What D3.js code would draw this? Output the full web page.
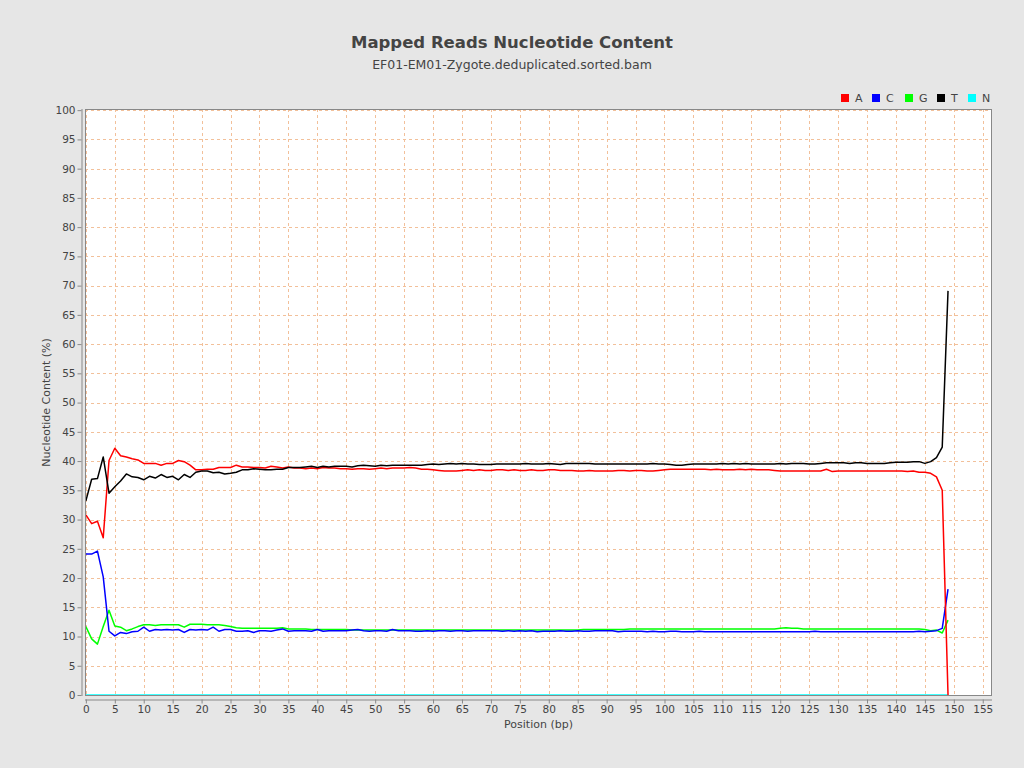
<!DOCTYPE html>
<html><head><meta charset="utf-8">
<script src="https://cdn.jsdelivr.net/npm/d3@7"></script>
<style>html,body{margin:0;padding:0;background:#e6e6e6;}svg{display:block;font-family:"DejaVu Sans",sans-serif;}</style>
</head><body>
<script>
const titleText = "Mapped Reads Nucleotide Content";
const subtitleText = "EF01-EM01-Zygote.deduplicated.sorted.bam";
const seriesNames = ["A","C","G","T","N"];
const seriesColors = ["#ff0000","#0000ff","#00ff00","#000000","#00ffff"];
const xTicks = d3.range(0,156,5);
const yTicks = d3.range(0,101,5);

const valuesA = [30.8,29.3,29.7,26.9,40.1,42.2,40.9,40.7,40.4,40.2,
39.6,39.6,39.6,39.3,39.6,39.6,40.1,39.9,39.3,38.5,
38.5,38.6,38.6,38.9,38.9,38.9,39.3,39.0,39.0,38.9,
38.9,38.8,39.1,39.0,38.8,39.0,38.8,38.8,38.7,38.8,
38.7,38.9,38.8,38.8,38.7,38.7,38.6,38.7,38.7,38.6,
38.7,38.8,38.7,38.8,38.8,38.8,38.9,38.8,38.6,38.6,
38.5,38.4,38.3,38.3,38.3,38.4,38.5,38.4,38.5,38.4,
38.4,38.5,38.5,38.4,38.5,38.4,38.4,38.5,38.4,38.4,
38.5,38.5,38.4,38.4,38.4,38.3,38.3,38.4,38.3,38.3,
38.3,38.3,38.4,38.4,38.3,38.4,38.4,38.3,38.3,38.4,
38.5,38.6,38.6,38.6,38.6,38.6,38.6,38.6,38.5,38.6,
38.5,38.5,38.5,38.6,38.5,38.6,38.5,38.5,38.5,38.4,
38.3,38.3,38.3,38.3,38.3,38.3,38.3,38.3,38.6,38.2,
38.3,38.3,38.3,38.3,38.3,38.3,38.3,38.3,38.3,38.3,
38.3,38.3,38.2,38.3,38.1,38.1,37.9,37.3,35.0,0];

const valuesC = [24.1,24.1,24.6,20.2,10.9,10.1,10.7,10.5,10.8,10.9,
11.6,10.9,11.2,11.1,11.2,11.1,11.2,10.7,11.2,11.1,
11.2,11.1,11.6,10.9,11.2,11.2,10.9,10.9,11.0,10.7,
11.0,11.0,10.9,11.1,11.3,10.9,11.0,11.0,11.0,10.9,
11.2,10.9,11.0,11.0,11.0,11.0,11.1,11.2,11.0,10.9,
11.0,11.0,10.9,11.2,11.0,11.0,11.0,10.9,10.9,11.0,
10.9,11.0,11.0,10.9,11.0,11.0,10.9,11.0,11.0,11.0,
11.0,11.0,10.9,11.0,10.9,11.0,10.9,11.0,10.8,10.9,
10.9,10.9,11.0,10.9,10.9,11.0,10.9,10.9,11.0,11.0,
11.0,11.0,10.8,10.9,10.9,10.9,10.9,10.8,10.9,10.8,
10.8,10.9,10.9,10.8,10.8,10.8,10.9,10.8,10.8,10.8,
10.8,10.8,10.8,10.8,10.8,10.8,10.8,10.8,10.8,10.8,
10.8,10.8,10.8,10.8,10.8,10.8,10.9,10.8,10.8,10.8,
10.8,10.8,10.8,10.8,10.8,10.8,10.8,10.8,10.8,10.8,
10.8,10.8,10.8,10.8,10.9,10.8,10.9,11.0,11.4,18.1];

const valuesG = [11.7,9.6,8.7,11.7,14.5,11.8,11.6,11.0,11.3,11.7,
12.0,12.0,11.9,12.0,12.0,12.0,12.0,11.6,12.1,12.1,
12.1,12.0,12.0,12.0,11.9,11.7,11.5,11.4,11.4,11.4,
11.4,11.4,11.4,11.4,11.5,11.3,11.3,11.3,11.3,11.2,
11.2,11.2,11.2,11.2,11.2,11.2,11.1,11.1,11.1,11.1,
11.1,11.1,11.1,11.1,11.1,11.1,11.1,11.1,11.1,11.1,
11.1,11.1,11.1,11.1,11.1,11.1,11.1,11.1,11.1,11.1,
11.1,11.1,11.1,11.1,11.1,11.1,11.1,11.1,11.1,11.1,
11.1,11.1,11.1,11.1,11.1,11.1,11.2,11.2,11.2,11.2,
11.2,11.2,11.2,11.2,11.3,11.3,11.3,11.3,11.3,11.3,
11.3,11.3,11.3,11.3,11.3,11.3,11.3,11.3,11.3,11.3,
11.3,11.3,11.3,11.3,11.3,11.3,11.3,11.3,11.3,11.3,
11.4,11.5,11.4,11.4,11.3,11.3,11.3,11.3,11.3,11.3,
11.3,11.3,11.3,11.3,11.3,11.3,11.3,11.3,11.3,11.3,
11.3,11.3,11.3,11.3,11.3,11.2,11.0,11.1,10.6,12.8];

const valuesT = [33.2,36.9,37.0,40.7,34.5,35.6,36.6,37.8,37.3,37.2,
36.8,37.4,37.1,37.7,37.2,37.4,36.8,37.7,37.2,38.1,
38.3,38.3,38.0,38.1,37.8,37.9,38.1,38.5,38.5,38.7,
38.6,38.5,38.5,38.6,38.6,38.9,38.9,38.9,39.0,39.1,
38.9,39.1,39.0,39.1,39.1,39.1,39.0,39.2,39.3,39.2,
39.1,39.3,39.2,39.3,39.3,39.3,39.3,39.3,39.3,39.4,
39.5,39.4,39.5,39.6,39.5,39.6,39.5,39.5,39.4,39.4,
39.4,39.5,39.5,39.5,39.5,39.5,39.6,39.5,39.5,39.5,
39.6,39.5,39.4,39.6,39.6,39.6,39.6,39.6,39.5,39.5,
39.5,39.5,39.5,39.5,39.5,39.5,39.5,39.5,39.6,39.5,
39.5,39.4,39.3,39.3,39.4,39.5,39.5,39.5,39.5,39.5,
39.6,39.5,39.6,39.5,39.6,39.5,39.5,39.5,39.5,39.5,
39.6,39.5,39.6,39.6,39.6,39.5,39.5,39.6,39.7,39.7,
39.7,39.7,39.6,39.7,39.7,39.6,39.6,39.6,39.6,39.7,
39.8,39.8,39.8,39.9,39.9,39.6,39.9,40.6,42.4,69.1];

const valuesN = d3.range(150).map(() => 0);
const allSeries = [valuesA, valuesC, valuesG, valuesT, valuesN];

const W = 1024, H = 768;
const plot = {left: 85, right: 992, top: 109, bottom: 696};

const svg = d3.select("body").append("svg").attr("width", W).attr("height", H);
svg.append("rect").attr("width", W).attr("height", H).attr("fill", "#e6e6e6");

const x = d3.scaleLinear().domain([-0.15, 156.6]).range([plot.left, plot.right]);
const y = d3.scaleLinear().domain([0, 100.2]).range([plot.bottom - 1, plot.top]);

svg.append("text").attr("x", 512).attr("y", 48).attr("text-anchor", "middle")
  .attr("font-size", 16.5).attr("font-weight", "bold").attr("fill", "#444").text(titleText);
svg.append("text").attr("x", 512).attr("y", 69).attr("text-anchor", "middle")
  .attr("font-size", 12.5).attr("fill", "#444").text(subtitleText);

svg.append("rect").attr("x", plot.left).attr("y", plot.top)
  .attr("width", plot.right - plot.left).attr("height", plot.bottom - plot.top).attr("fill", "#fff");

const grid = svg.append("g").attr("stroke", "#f2c09a").attr("stroke-width", 1).attr("stroke-dasharray", "3,3");
grid.selectAll(".gx").data(xTicks).join("line")
  .attr("x1", d => Math.round(x(d)) + 0.5).attr("x2", d => Math.round(x(d)) + 0.5)
  .attr("y1", plot.top).attr("y2", plot.bottom);
grid.selectAll(".gy").data(yTicks).join("line")
  .attr("y1", d => Math.round(y(d)) + 0.5).attr("y2", d => Math.round(y(d)) + 0.5)
  .attr("x1", plot.left).attr("x2", plot.right);

svg.append("clipPath").attr("id", "clip").append("rect")
  .attr("x", plot.left).attr("y", plot.top).attr("width", plot.right - plot.left).attr("height", plot.bottom - plot.top);

const line = d3.line().x((d, i) => x(i)).y(d => y(d));
const lines = svg.append("g").attr("clip-path", "url(#clip)");
[4, 2, 1, 0, 3].forEach(k => {
  lines.append("path").datum(allSeries[k]).attr("d", line)
    .attr("fill", "none").attr("stroke", seriesColors[k]).attr("stroke-width", 1.5)
    .attr("stroke-linejoin", "round");
});

svg.append("rect").attr("x", plot.left + 0.5).attr("y", plot.top + 0.5)
  .attr("width", plot.right - plot.left - 1).attr("height", plot.bottom - plot.top - 1)
  .attr("fill", "none").attr("stroke", "#888");

const yAxis = svg.append("g").attr("transform", `translate(${plot.left - 3.5},0)`)
  .call(d3.axisLeft(y).tickValues(yTicks).tickSize(4).tickPadding(2).tickSizeOuter(0));
yAxis.selectAll("text").attr("font-size", 10.5).attr("fill", "#444").attr("font-family", "DejaVu Sans");
yAxis.selectAll("line,path").attr("stroke", "#888");
yAxis.select(".domain").attr("d", `M0.5,${plot.top}V${plot.bottom}`);

const xAxis = svg.append("g").attr("transform", `translate(0,${plot.bottom + 3.5})`)
  .call(d3.axisBottom(x).tickValues(xTicks).tickSize(4).tickPadding(2).tickSizeOuter(0));
xAxis.selectAll("text").attr("font-size", 10.5).attr("fill", "#444").attr("font-family", "DejaVu Sans");
xAxis.selectAll("line,path").attr("stroke", "#888");
xAxis.select(".domain").attr("d", `M${plot.left},0.5H${plot.right}`);

svg.append("text").attr("x", (plot.left + plot.right) / 2).attr("y", 728).attr("text-anchor", "middle")
  .attr("font-size", 11).attr("fill", "#444").text("Position (bp)");
svg.append("text").attr("transform", `translate(50,${(plot.top + plot.bottom) / 2}) rotate(-90)`)
  .attr("text-anchor", "middle").attr("font-size", 11).attr("fill", "#444").text("Nucleotide Content (%)");

const legendX = [841, 872, 905, 937, 968];
const lg = svg.append("g");
seriesNames.forEach((n, i) => {
  lg.append("rect").attr("x", legendX[i]).attr("y", 94).attr("width", 8).attr("height", 8).attr("fill", seriesColors[i]);
  lg.append("text").attr("x", legendX[i] + 14).attr("y", 102).attr("font-size", 11).attr("fill", "#444").text(n);
});
</script>
</body></html>
